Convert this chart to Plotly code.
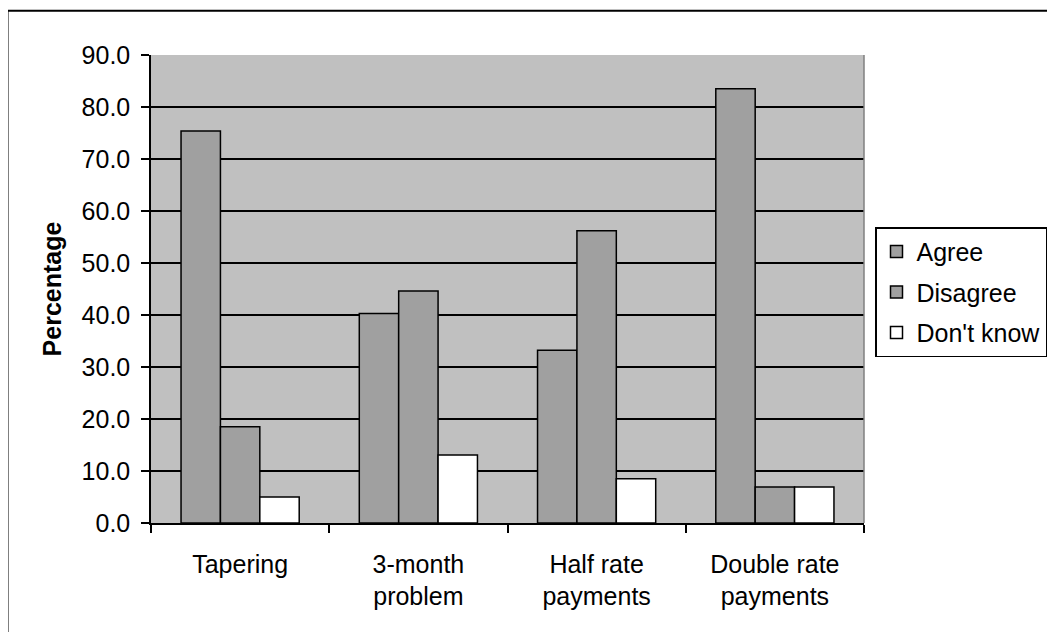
import plotly.graph_objects as go

categories = ["Tapering", "3-month<br>problem", "Half rate<br>payments", "Double rate<br>payments"]
agree = [75.4, 40.3, 33.2, 83.5]
disagree = [18.5, 44.6, 56.2, 6.9]
dont_know = [5.0, 13.1, 8.5, 6.9]
series_names = ["Agree", "Disagree", "Don't know"]
y_ticks = [0, 10, 20, 30, 40, 50, 60, 70, 80, 90]

# page offset (browser body margin)
OFF = 8
W, H = 1055, 632
L, R, T, B = 151 - OFF, 864 - OFF, 54.7 - OFF, 522.7 - OFF

fig = go.Figure()
colors = ["#A0A0A0", "#A0A0A0", "#FFFFFF"]
for i, (name, vals) in enumerate(zip(series_names, [agree, disagree, dont_know])):
    fig.add_trace(go.Bar(
        x=categories, y=vals, name=name,
        marker=dict(color=colors[i], line=dict(color="black", width=1.5)),
        legendgroup=name,
    ))

def px_x(p):
    return (p - OFF - L) / (R - L)

def px_y(p):
    return (B - (p - OFF)) / (B - T)

FS = 25

fig.update_layout(
    width=W, height=H,
    margin=dict(l=L, r=W - R, t=T, b=H - B, autoexpand=False),
    paper_bgcolor="white",
    plot_bgcolor="#C0C0C0",
    font=dict(family="Liberation Sans, Arial, sans-serif", size=FS, color="black"),
    barmode="group",
    bargap=0.337,
    bargroupgap=0,
    showlegend=True,
    legend=dict(
        x=px_x(875), xanchor="left",
        y=px_y(227), yanchor="top",
        bordercolor="black", borderwidth=1.5,
        bgcolor="white",
        font=dict(size=FS),
        tracegroupgap=5,
        itemwidth=30,
    ),
    xaxis=dict(
        showline=True, linecolor="black", linewidth=1.5,
        ticks="outside", ticklen=8, tickcolor="black", tickwidth=1.5,
        tickson="boundaries",
        showgrid=False,
        ticklabelstandoff=18,
        tickfont=dict(size=FS),
    ),
    yaxis=dict(
        range=[0, 90], tickvals=y_ticks, tickformat=".1f",
        showline=True, linecolor="black", linewidth=1.5,
        ticks="outside", ticklen=8, tickcolor="black", tickwidth=1.5,
        showgrid=True, gridcolor="black", gridwidth=1.5,
        zeroline=False,
        ticklabelstandoff=6,
        tickfont=dict(size=FS),
        title=dict(text="<b>Percentage</b>", font=dict(size=FS), standoff=13),
        automargin=False,
    ),
    shapes=[
        dict(type="rect", xref="paper", yref="paper",
             x0=px_x(7.5), x1=px_x(1070), y0=px_y(650), y1=px_y(10.5),
             line=dict(color="black", width=2), fillcolor="rgba(0,0,0,0)", layer="below"),
        dict(type="line", xref="paper", yref="paper",
             x0=1, x1=1, y0=0, y1=1, line=dict(color="#808080", width=1.5)),
    ],
)

fig.write_html("out.html")
